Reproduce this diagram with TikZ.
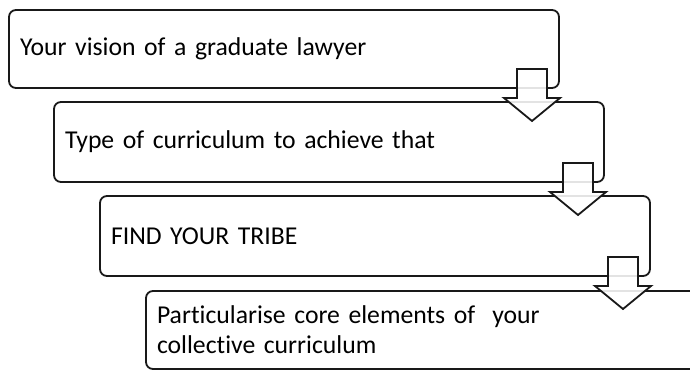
\documentclass[tikz,border=0pt]{standalone}
\usepackage{fontspec}
\setmainfont{Carlito}[Ligatures=NoCommon]
\usetikzlibrary{calc}
\begin{document}
\begin{tikzpicture}[x=1pt,y=-1pt,
  stage/.style={draw=black!90, line width=1.8pt, rounded corners=7pt, fill=white,
    anchor=north west, inner xsep=11pt, inner ysep=0pt, outer sep=0pt, align=left,
    font=\fontsize{25.7}{30}\selectfont},
  blockarrow/.style={draw=black!90, line width=1.8pt, fill=white, fill opacity=0.88,
    line join=miter},
  downarrow/.pic={\path[blockarrow] (-15,0) -- (15,0) -- (15,29) -- (28,29) -- (0,52)
    -- (-28,29) -- (-15,29) -- cycle;}
]
\useasboundingbox (0,0) rectangle (690,372);
\clip (0,0) rectangle (690,372);
% the four stages, stepping down to the right
\node[stage, text width=528pt, minimum height=78pt] (b1) at (9,10)
  {Your vision of a graduate lawyer};
\node[stage, text width=528pt, minimum height=80pt] (b2) at (54,102)
  {Type of curriculum to achieve that};
\node[stage, text width=528pt, minimum height=80pt] (b3) at (100,196)
  {FIND YOUR TRIBE};
\node[stage, text width=552pt, minimum height=78pt] (b4) at (146,291)
  {Particularise core elements of~ your\\collective curriculum};
% hollow arrows leading from each stage to the next
\pic (a1) at ($(b1.south east)+(-27,-19)$) {downarrow};
\pic (a2) at ($(b2.south east)+(-26,-19)$) {downarrow};
\pic (a3) at ($(b3.south east)+(-27,-19)$) {downarrow};
\end{tikzpicture}
\end{document}
